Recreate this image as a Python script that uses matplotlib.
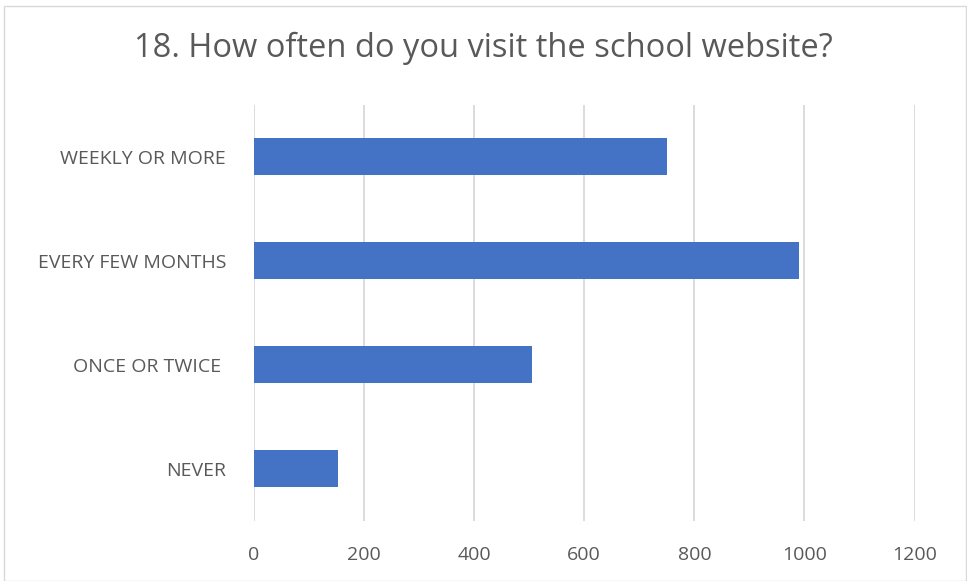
import matplotlib.pyplot as plt
from matplotlib.patches import Rectangle

plt.rcParams['font.family'] = ['Open Sans', 'DejaVu Sans']

categories = ['WEEKLY OR MORE', 'EVERY FEW MONTHS', 'ONCE OR TWICE ', 'NEVER']
counts = [750, 990, 505, 153]
xticks = [0, 200, 400, 600, 800, 1000, 1200]

fig = plt.figure(figsize=(9.67, 5.81), dpi=100)
ax = fig.add_axes([254 / 967, 1 - 520.5 / 581, (914.5 - 254) / 967, 416 / 581])

pos = list(range(len(categories)))
ax.barh(pos, counts, height=0.36, color='#4472C4', zorder=3)
ax.set_ylim(len(categories) - 0.5, -0.5)
ax.set_xlim(0, 1200)
ax.set_xticks(xticks)
ax.set_yticks(pos)
ax.set_yticklabels(categories)
ax.grid(axis='x', color='#D9D9D9', linewidth=1.3, zorder=0)
for s in ax.spines.values():
    s.set_visible(False)
ax.tick_params(length=0, labelsize=14, colors='#595959', pad=18)
ax.tick_params(axis='y', pad=20)

fig.text(0.5, 1 - 48 / 581, '18. How often do you visit the school website?',
         ha='center', va='center', fontsize=23.5, color='#595959')

# outer chart frame
fig.patches.append(Rectangle((4 / 967, 0), 962 / 967, 1 - 6 / 581,
                             transform=fig.transFigure, fill=False,
                             edgecolor='#D9D9D9', linewidth=1))

fig.savefig('out.png', dpi=100)
